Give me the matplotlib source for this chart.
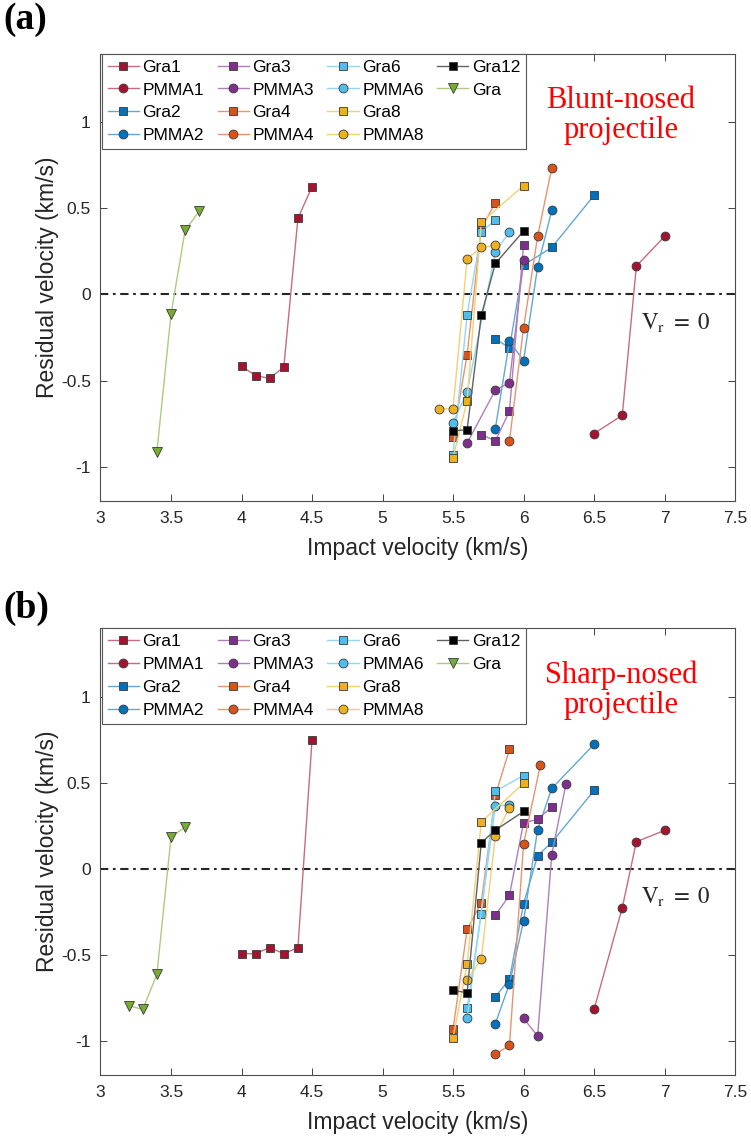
import numpy as np
import matplotlib
matplotlib.use('Agg')
import matplotlib.pyplot as plt
from matplotlib.lines import Line2D
from matplotlib.colors import to_rgb

plt.rcParams['font.family'] = ['Liberation Sans', 'DejaVu Sans']
plt.rcParams['mathtext.fontset'] = 'stix'

labels = ['Gra1', 'PMMA1', 'Gra2', 'PMMA2', 'Gra3', 'PMMA3', 'Gra4', 'PMMA4',
          'Gra6', 'PMMA6', 'Gra8', 'PMMA8', 'Gra12', 'Gra']
markers = ['s', 'o', 's', 'o', 's', 'o', 's', 'o', 's', 'o', 's', 'o', 's', 'v']
colors = ['#A2142F', '#A2142F', '#0072BD', '#0072BD', '#7E2F8E', '#7E2F8E',
          '#D95319', '#D95319', '#4DBEEE', '#4DBEEE', '#EDB120', '#EDB120',
          '#000000', '#77AC30']

# (a) blunt-nosed projectile: impact velocity / residual velocity (km/s)
a_gra1_v = [4.0, 4.1, 4.2, 4.3, 4.4, 4.5]
a_gra1_r = [-0.417, -0.471, -0.488, -0.421, 0.442, 0.626]
a_pmma1_v = [6.5, 6.7, 6.8, 7.0]
a_pmma1_r = [-0.808, -0.702, 0.165, 0.337]
a_gra2_v = [5.8, 5.9, 6.0, 6.2, 6.5]
a_gra2_r = [-0.258, -0.310, 0.171, 0.273, 0.576]
a_pmma2_v = [5.8, 5.9, 6.0, 6.1, 6.2]
a_pmma2_r = [-0.779, -0.273, -0.384, 0.161, 0.488]
a_gra3_v = [5.7, 5.8, 5.9, 6.0]
a_gra3_r = [-0.814, -0.851, -0.678, 0.289]
a_pmma3_v = [5.6, 5.8, 5.9, 6.0]
a_pmma3_r = [-0.863, -0.556, -0.512, 0.200]
a_gra4_v = [5.5, 5.6, 5.7, 5.8]
a_gra4_r = [-0.828, -0.349, 0.384, 0.533]
a_pmma4_v = [5.9, 6.0, 6.1, 6.2]
a_pmma4_r = [-0.851, -0.194, 0.339, 0.734]
a_gra6_v = [5.5, 5.6, 5.7, 5.8]
a_gra6_r = [-0.930, -0.118, 0.364, 0.432]
a_pmma6_v = [5.5, 5.6, 5.8, 5.9]
a_pmma6_r = [-0.744, -0.566, 0.246, 0.364]
a_gra8_v = [5.5, 5.6, 5.7, 6.0]
a_gra8_r = [-0.948, -0.618, 0.419, 0.632]
a_pmma8_v = [5.4, 5.5, 5.6, 5.7, 5.8]
a_pmma8_r = [-0.663, -0.663, 0.207, 0.273, 0.287]
a_gra12_v = [5.5, 5.6, 5.7, 5.8, 6.0]
a_gra12_r = [-0.793, -0.785, -0.122, 0.180, 0.368]
a_gra_v = [3.4, 3.5, 3.6, 3.7]
a_gra_r = [-0.915, -0.116, 0.372, 0.484]

# (b) sharp-nosed projectile
b_gra1_v = [4.0, 4.1, 4.2, 4.3, 4.4, 4.5]
b_gra1_r = [-0.494, -0.494, -0.459, -0.494, -0.459, 0.746]
b_pmma1_v = [6.5, 6.7, 6.8, 7.0]
b_pmma1_r = [-0.818, -0.227, 0.157, 0.223]
b_gra2_v = [5.8, 5.9, 6.0, 6.1, 6.2, 6.5]
b_gra2_r = [-0.744, -0.644, -0.203, 0.076, 0.153, 0.455]
b_pmma2_v = [5.8, 5.9, 6.0, 6.1, 6.2, 6.5]
b_pmma2_r = [-0.901, -0.669, -0.304, 0.228, 0.467, 0.723]
b_gra3_v = [5.8, 5.9, 6.0, 6.1, 6.2]
b_gra3_r = [-0.271, -0.155, 0.267, 0.287, 0.360]
b_pmma3_v = [6.0, 6.1, 6.2, 6.3]
b_pmma3_r = [-0.870, -0.973, 0.081, 0.490]
b_gra4_v = [5.5, 5.6, 5.7, 5.8, 5.9]
b_gra4_r = [-0.934, -0.353, -0.198, 0.426, 0.694]
b_pmma4_v = [5.8, 5.9, 6.0, 6.12]
b_pmma4_r = [-1.080, -1.027, 0.143, 0.606]
b_gra6_v = [5.6, 5.7, 5.8, 6.0]
b_gra6_r = [-0.808, -0.262, 0.451, 0.542]
b_pmma6_v = [5.6, 5.8, 5.9]
b_pmma6_r = [-0.866, 0.364, 0.372]
b_gra8_v = [5.5, 5.6, 5.7, 6.0]
b_gra8_r = [-0.983, -0.556, 0.273, 0.496]
b_pmma8_v = [5.6, 5.7, 5.8, 5.9]
b_pmma8_r = [-0.648, -0.527, 0.190, 0.355]
b_gra12_v = [5.5, 5.6, 5.7, 5.8, 6.0]
b_gra12_r = [-0.708, -0.721, 0.151, 0.224, 0.333]
b_gra_v = [3.2, 3.3, 3.4, 3.5, 3.6]
b_gra_r = [-0.797, -0.818, -0.614, 0.184, 0.242]

blunt = [(a_gra1_v, a_gra1_r), (a_pmma1_v, a_pmma1_r), (a_gra2_v, a_gra2_r),
         (a_pmma2_v, a_pmma2_r), (a_gra3_v, a_gra3_r), (a_pmma3_v, a_pmma3_r),
         (a_gra4_v, a_gra4_r), (a_pmma4_v, a_pmma4_r), (a_gra6_v, a_gra6_r),
         (a_pmma6_v, a_pmma6_r), (a_gra8_v, a_gra8_r), (a_pmma8_v, a_pmma8_r),
         (a_gra12_v, a_gra12_r), (a_gra_v, a_gra_r)]
sharp = [(b_gra1_v, b_gra1_r), (b_pmma1_v, b_pmma1_r), (b_gra2_v, b_gra2_r),
         (b_pmma2_v, b_pmma2_r), (b_gra3_v, b_gra3_r), (b_pmma3_v, b_pmma3_r),
         (b_gra4_v, b_gra4_r), (b_pmma4_v, b_pmma4_r), (b_gra6_v, b_gra6_r),
         (b_pmma6_v, b_pmma6_r), (b_gra8_v, b_gra8_r), (b_pmma8_v, b_pmma8_r),
         (b_gra12_v, b_gra12_r), (b_gra_v, b_gra_r)]

msize = {'s': 5.8, 'o': 6.4, 'v': 7.0}
axis_col = '#262626'


def draw_panel(ax, series, note):
    handles = []
    for (v, r), lab, mk, c in zip(series, labels, markers, colors):
        light = tuple(0.62 * np.array(to_rgb(c)) + 0.38)
        h, = ax.plot(v, r, color=light, lw=1.0, marker=mk, ms=msize[mk],
                     mfc=c, mec='#3a3a3a', mew=0.6, label=lab)
        handles.append(h)

    ax.axhline(0, color=axis_col, lw=1.5, dashes=(4, 2.2, 1.3, 2.2), zorder=1)

    ax.set_xlim(3, 7.5)
    ax.set_ylim(-1.2, 1.4)
    ax.set_xticks(np.arange(3, 7.51, 0.5))
    ax.set_xticklabels(['3', '3.5', '4', '4.5', '5', '5.5', '6', '6.5', '7', '7.5'])
    ax.set_yticks([-1, -0.5, 0, 0.5, 1])
    ax.set_yticklabels(['-1', '-0.5', '0', '0.5', '1'])
    ax.tick_params(direction='in', top=True, right=True, length=5, width=0.6,
                   labelsize=12.5, colors=axis_col, pad=7)
    for s in ax.spines.values():
        s.set_color('#4d4d4d')
        s.set_linewidth(0.8)
    ax.set_xlabel('Impact velocity (km/s)', fontsize=16.5, color=axis_col, labelpad=8)
    ax.set_ylabel('Residual velocity (km/s)', fontsize=16.5, color=axis_col, labelpad=1)

    ax.text(6.69, 1.04, note, color='red', family='Liberation Serif',
            fontsize=22, ha='center', va='center', linespacing=1.05)
    ax.text(6.83, -0.165, r'$\mathrm{V_r}\ =\ 0$', fontsize=16.5, color=axis_col,
            ha='left', va='center')

    # two empty slots so the legend fills 4 rows column by column
    blank = Line2D([], [], linestyle='none')
    leg = ax.legend(handles + [blank, blank], labels + ['', ''], ncol=4,
                    loc='upper left', bbox_to_anchor=(0.002, 1.0), borderaxespad=0,
                    fontsize=12.5, handlelength=1.8, handletextpad=0.2,
                    columnspacing=0.78, labelspacing=0.44, borderpad=0.35,
                    fancybox=False, framealpha=1, edgecolor='#555555')
    leg.get_frame().set_linewidth(0.8)


fig = plt.figure(figsize=(7.51, 11.41), dpi=100)
ax_a = fig.add_axes([0.1338, 0.5609, 0.845, 0.3922])
ax_b = fig.add_axes([0.1338, 0.0578, 0.845, 0.3918])

draw_panel(ax_a, blunt, 'Blunt-nosed\nprojectile')
draw_panel(ax_b, sharp, 'Sharp-nosed\nprojectile')

fig.text(0.004, 0.998, '(a)', fontsize=27, fontweight='bold',
         family='Liberation Serif', va='top', ha='left')
fig.text(0.004, 0.482, '(b)', fontsize=27, fontweight='bold',
         family='Liberation Serif', va='top', ha='left')

fig.savefig('out.png', dpi=100)
